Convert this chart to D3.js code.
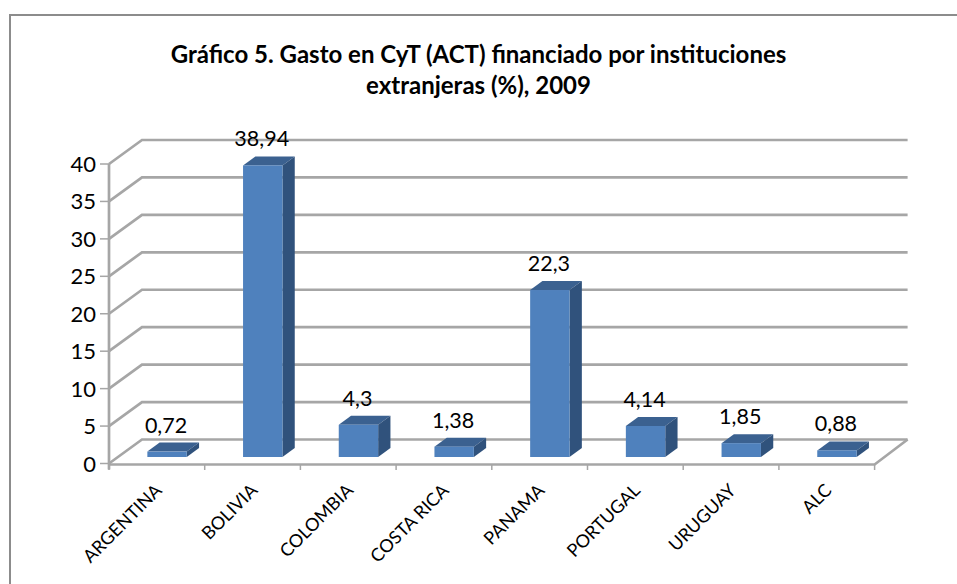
<!DOCTYPE html>
<html><head><meta charset="utf-8">
<script src="https://cdn.jsdelivr.net/npm/d3@7"></script>
<style>html,body{margin:0;padding:0;background:#fff}svg{display:block}text{font-family:Lato,"Open Sans",sans-serif;fill:#000}</style>
</head><body><svg id="c" width="957" height="584"></svg>
<script>
const categories = ["ARGENTINA","BOLIVIA","COLOMBIA","COSTA RICA","PANAMA","PORTUGAL","URUGUAY","ALC"];
const values = [0.72,38.94,4.3,1.38,22.3,4.14,1.85,0.88];
const valueLabels = ["0,72","38,94","4,3","1,38","22,3","4,14","1,85","0,88"];
const yTicks = [0,5,10,15,20,25,30,35,40];
const titleLines = ["Gráfico 5. Gasto en CyT (ACT) financiado por instituciones","extranjeras (%), 2009"];

const svg = d3.select("#c");
const x = d3.scaleBand().domain(categories).range([109,874.6]);
const y = d3.scaleLinear().domain([0,40]).range([463.5,164]);
const dx = 33, dy = -24;          // depth of the chart box
const bw = 39.4, bdx = 12.3, bdy = -9, bx = 10.2, by = -6.5; // bar box
const grid = "#a6a6a6";
const pts = a => a.map(p=>p.join(",")).join(" ");

svg.append("path").attr("d","M10,600V15H960")
  .attr("fill","none").attr("stroke","#8c8c8c").attr("stroke-width",2);

svg.append("g").selectAll("text").data(titleLines).join("text")
  .attr("x",478.5).attr("y",(d,i)=>i?94:63).attr("text-anchor","middle")
  .attr("font-size",24).attr("font-weight",700).text(d=>d);

const gr = svg.append("g").attr("fill","none").attr("stroke",grid).attr("stroke-width",2.7);
gr.selectAll("polyline.g").data(yTicks).join("polyline").attr("class","g")
  .attr("points",d=>pts([[x.range()[0],y(d)],[x.range()[0]+dx,y(d)+dy],[x.range()[1]+dx,y(d)+dy]]));
gr.append("polyline").attr("points",pts([[x.range()[0],y(0)+1],[x.range()[1],y(0)+1],[x.range()[1]+dx,y(0)+dy]]));
gr.append("line").attr("x1",x.range()[0]).attr("x2",x.range()[0]).attr("y1",y(40)).attr("y2",y(0)+6);
gr.selectAll("line.yt").data(yTicks).join("line").attr("class","yt")
  .attr("x1",x.range()[0]-9).attr("x2",x.range()[0]).attr("y1",d=>y(d)).attr("y2",d=>y(d)).attr("stroke-width",1.5);
const xEdges = [...categories.map(c=>x(c)), x.range()[1]];
gr.selectAll("line.xt").data(xEdges).join("line").attr("class","xt")
  .attr("x1",d=>d).attr("x2",d=>d).attr("y1",y(0)+1).attr("y2",y(0)+6.5).attr("stroke-width",1.5);

svg.append("g").selectAll("text").data(yTicks).join("text")
  .attr("x",96).attr("y",d=>y(d)+8).attr("text-anchor","end").attr("font-size",22).text(d=>d);

const bars = svg.append("g").selectAll("g").data(categories).join("g");
const left = c => x(c)+x.bandwidth()/2+bx-bw/2;
const top0 = (v) => y(v)+by;
bars.append("polygon").attr("fill","#3b6190")
  .attr("points",(c,i)=>{const l=left(c),t=top0(values[i]);return pts([[l,t],[l+bdx,t+bdy],[l+bw+bdx,t+bdy],[l+bw,t]]);});
bars.append("polygon").attr("fill","#30527c")
  .attr("points",(c,i)=>{const l=left(c)+bw,t=top0(values[i]),b=top0(0);return pts([[l,t],[l+bdx,t+bdy],[l+bdx,b+bdy],[l,b]]);});
bars.append("rect").attr("fill","#4f81bd")
  .attr("x",c=>left(c)).attr("width",bw)
  .attr("y",(c,i)=>top0(values[i])).attr("height",(c,i)=>top0(0)-top0(values[i]));

svg.append("g").selectAll("text").data(categories).join("text")
  .attr("x",c=>left(c)+bw/2-1).attr("y",(c,i)=>top0(values[i])-19)
  .attr("text-anchor","middle").attr("font-size",21.5).text((c,i)=>valueLabels[i]);

svg.append("g").selectAll("text").data(categories).join("text")
  .attr("text-anchor","end").attr("font-size",18)
  .attr("transform",c=>`translate(${x(c)+x.bandwidth()/2+6},${y(0)+28}) rotate(-45)`)
  .text(c=>c);
</script></body></html>
